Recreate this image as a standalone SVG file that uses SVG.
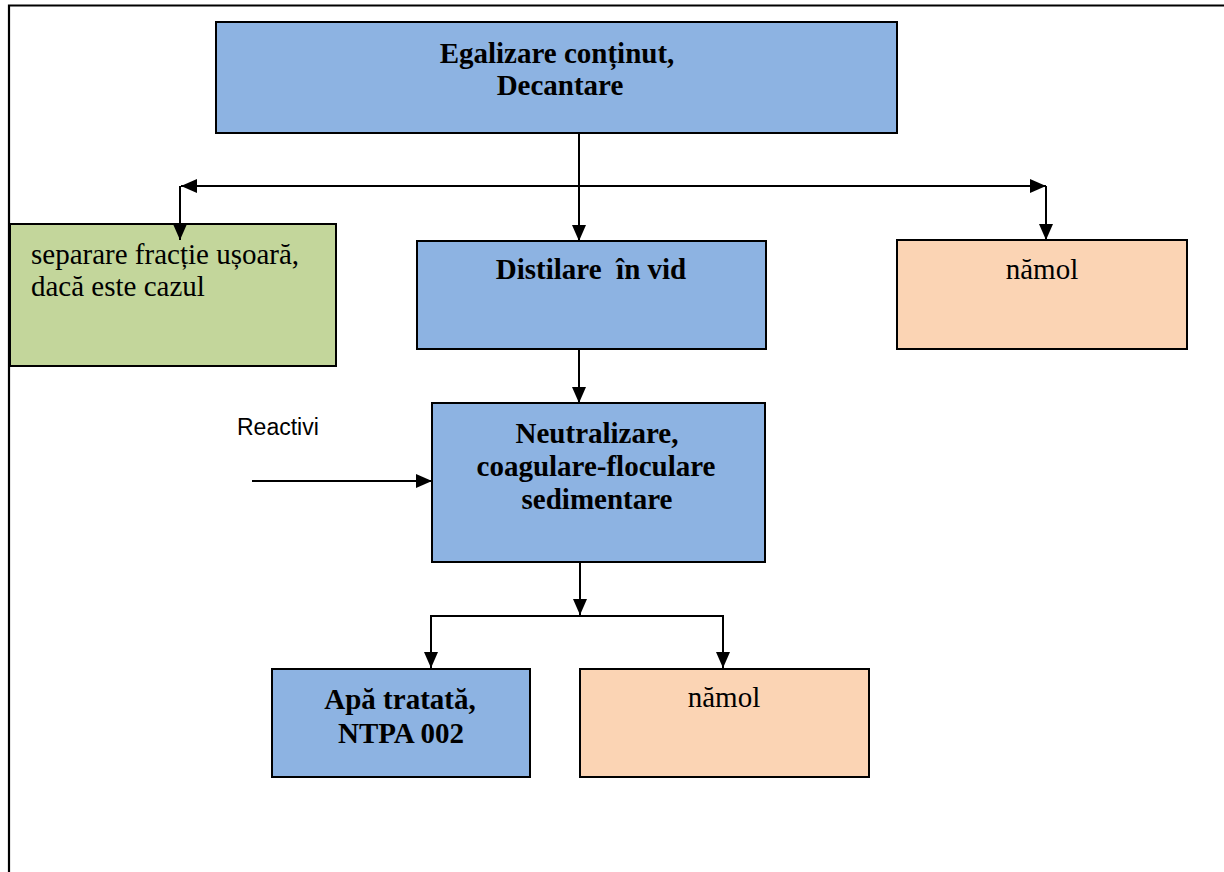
<svg xmlns="http://www.w3.org/2000/svg" width="1224" height="872" viewBox="0 0 1224 872">
  <style>
    .box { stroke: #000; stroke-width: 2; }
    .blue { fill: #8DB3E2; }
    .green { fill: #C3D69B; }
    .peach { fill: #FBD4B4; }
    .bold { font-family: "Liberation Serif", "Times New Roman", serif; font-weight: bold; font-size: 29px; fill: #000; text-anchor: middle; }
    .reg { font-family: "Liberation Serif", "Times New Roman", serif; font-size: 29px; fill: #000; }
    .sans { font-family: "Liberation Sans", Arial, sans-serif; font-size: 23px; fill: #000; }
    .wire { fill: none; stroke: #000; stroke-width: 2; }
  </style>
  <defs>
    <marker id="head" viewBox="0 0 16 14" refX="16" refY="7" markerWidth="16" markerHeight="14" markerUnits="userSpaceOnUse" orient="auto-start-reverse">
      <path d="M0,0 L16,7 L0,14 z" fill="#000"/>
    </marker>
  </defs>

  <rect width="1224" height="872" fill="#fff"/>

  <!-- page frame -->
  <path d="M9,872 V5.5 H1224" fill="none" stroke="#000" stroke-width="2.2"/>

  <g id="egalizare">
    <rect class="box blue" x="216" y="22" width="681" height="111"/>
    <text class="bold" x="557" y="63">Egalizare conținut,</text>
    <text class="bold" x="560" y="95">Decantare</text>
  </g>

  <g id="separare">
    <rect class="box green" x="10" y="224" width="326" height="142"/>
    <text class="reg" x="31" y="264">separare fracție ușoară,</text>
    <text class="reg" x="31" y="296">dacă este cazul</text>
  </g>

  <g id="distilare">
    <rect class="box blue" x="417" y="241" width="349" height="108"/>
    <text class="bold" x="591" y="279" xml:space="preserve">Distilare  în vid</text>
  </g>

  <g id="namol-1">
    <rect class="box peach" x="897" y="240" width="290" height="109"/>
    <text class="reg" x="1042" y="279" text-anchor="middle">nămol</text>
  </g>

  <g id="reactivi">
    <text class="sans" x="237" y="435">Reactivi</text>
  </g>

  <g id="neutralizare">
    <rect class="box blue" x="432" y="403" width="333" height="159"/>
    <text class="bold" x="597" y="443">Neutralizare,</text>
    <text class="bold" x="596" y="476">coagulare-floculare</text>
    <text class="bold" x="597" y="509">sedimentare</text>
  </g>

  <g id="apa-tratata">
    <rect class="box blue" x="272" y="669" width="258" height="108"/>
    <text class="bold" x="400" y="709">Apă tratată,</text>
    <text class="bold" x="401" y="743">NTPA 002</text>
  </g>

  <g id="namol-2">
    <rect class="box peach" x="580" y="669" width="289" height="108"/>
    <text class="reg" x="724" y="707" text-anchor="middle">nămol</text>
  </g>

  <!-- connectors, drawn over the boxes so the heads overlap their edges -->
  <g id="connectors">
    <path class="wire" d="M579,133 V241" marker-end="url(#head)"/>
    <path class="wire" d="M181,186 H1046" marker-start="url(#head)" marker-end="url(#head)"/>
    <path class="wire" d="M180,186 V240" marker-end="url(#head)"/>
    <path class="wire" d="M1046,186 V240" marker-end="url(#head)"/>
    <path class="wire" d="M579,349 V403" marker-end="url(#head)"/>
    <path class="wire" d="M252,481 H432" marker-end="url(#head)"/>
    <path class="wire" d="M580,562 V615" marker-end="url(#head)"/>
    <path class="wire" d="M431,668 V616 H723 V668" marker-start="url(#head)" marker-end="url(#head)"/>
  </g>
</svg>
